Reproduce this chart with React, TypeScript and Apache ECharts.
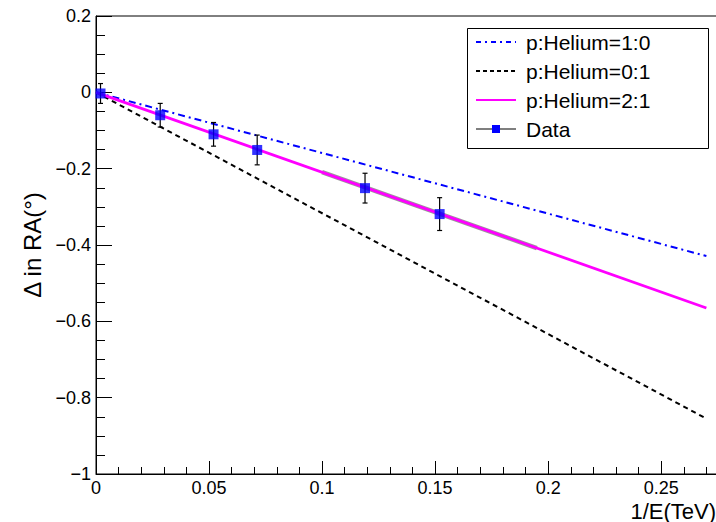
import React, { useEffect, useRef } from "react";
import * as echarts from "echarts";

// Data points: 1/E (TeV^-1), Δ RA (deg), error
const dataX = [0.002, 0.0284, 0.052, 0.0713, 0.119, 0.152];
const dataY = [-0.003, -0.06, -0.11, -0.151, -0.251, -0.319];
const dataErr = [0.026, 0.031, 0.031, 0.039, 0.039, 0.043];

// Model lines (endpoints)
const helium10 = [[0, 0], [0.27, -0.429]];
const helium01 = [[0, 0], [0.27, -0.855]];
const helium21 = [[0, 0], [0.27, -0.565]];
const fitBand = [[0.1, -0.209], [0.195, -0.408]];

const legendLabels = ["p:Helium=1:0", "p:Helium=0:1", "p:Helium=2:1", "Data"];

const FONT = "Liberation Sans, Arial, Helvetica, sans-serif";

export default function App() {
  const ref = useRef<HTMLDivElement>(null);
  useEffect(() => {
    if (!ref.current) return;
    const chart = echarts.init(ref.current, null, { renderer: "svg" });
    const points = dataX.map((x, i) => [x, dataY[i]]);
    const errs = dataX.map((x, i) => [x, dataY[i], dataErr[i]]);

    const lx0 = 476, lx1 = 516, ltx = 526;
    const rows = [42, 71, 100, 129];

    const option: any = {
      animation: false,
      backgroundColor: "#fff",
      grid: {
        left: 96, top: 16, width: 633, height: 458,
        show: true, borderColor: "#000", borderWidth: 1, backgroundColor: "transparent",
      },
      xAxis: {
        type: "value", min: 0, max: 0.28, interval: 0.05,
        axisLine: { onZero: false, lineStyle: { color: "#000", width: 1 } },
        axisTick: { inside: true, length: 13, lineStyle: { color: "#000" } },
        minorTick: { show: true, splitNumber: 5, length: 7, lineStyle: { color: "#000" } },
        splitLine: { show: false },
        axisLabel: {
          color: "#000", fontSize: 18, fontFamily: FONT, margin: 5, showMaxLabel: false,
          formatter: (v: number) => {
            const r = Math.round(v * 100) / 100;
            return r === 0 ? "0" : String(r);
          },
        },
      },
      yAxis: {
        type: "value", min: -1, max: 0.2, interval: 0.2,
        name: "\u0394 in RA(\u00b0)", nameLocation: "middle", nameGap: 44, nameRotate: 90,
        nameTextStyle: { color: "#000", fontSize: 24, fontFamily: FONT },
        axisLine: { onZero: false, lineStyle: { color: "#000", width: 1 } },
        axisTick: { inside: true, length: 16, lineStyle: { color: "#000" } },
        minorTick: { show: true, splitNumber: 4, length: 9, lineStyle: { color: "#000" } },
        splitLine: { show: false },
        axisLabel: {
          color: "#000", fontSize: 18, fontFamily: FONT, margin: 5,
          formatter: (v: number) => {
            const r = Math.round(v * 10) / 10;
            if (r === 0) return "0";
            if (r < 0) return "\u2212" + Math.abs(r);
            return String(r);
          },
        },
      },
      series: [
        {
          type: "line", data: helium10, symbol: "none", z: 3,
          lineStyle: { color: "#0000ff", width: 2, type: [7, 4, 2, 4] },
        },
        {
          type: "line", data: helium01, symbol: "none", z: 3,
          lineStyle: { color: "#000", width: 2, type: [5, 4] },
        },
        {
          type: "line", data: fitBand, symbol: "none", z: 3,
          lineStyle: { color: "#555", width: 4.5, opacity: 0.6 },
        },
        {
          type: "line", data: helium21, symbol: "none", z: 4,
          lineStyle: { color: "#ff00ff", width: 2.8 },
        },
        {
          type: "custom", data: errs, z: 5,
          renderItem: (params: any, api: any) => {
            const x = api.value(0), y = api.value(1), e = api.value(2);
            const lo = api.coord([x, y - e]);
            const hi = api.coord([x, y + e]);
            const c = 2.5;
            const st = { stroke: "#000", lineWidth: 1.2 };
            return {
              type: "group",
              children: [
                { type: "line", shape: { x1: lo[0], y1: lo[1], x2: hi[0], y2: hi[1] }, style: st },
                { type: "line", shape: { x1: lo[0] - c, y1: lo[1], x2: lo[0] + c, y2: lo[1] }, style: st },
                { type: "line", shape: { x1: hi[0] - c, y1: hi[1], x2: hi[0] + c, y2: hi[1] }, style: st },
              ],
            };
          },
        },
        {
          type: "scatter", data: points, symbol: "rect", symbolSize: 10, z: 6,
          itemStyle: { color: "#0000ff" },
        },
      ],
      graphic: [
        {
          type: "rect", z: 100,
          shape: { x: 467.5, y: 28.5, width: 241, height: 120 },
          style: { fill: "#fff", stroke: "#000", lineWidth: 1 },
        },
        { type: "line", z: 101, shape: { x1: lx0, y1: rows[0], x2: lx1, y2: rows[0] },
          style: { stroke: "#0000ff", lineWidth: 2, lineDash: [5, 4, 2, 4] } },
        { type: "line", z: 101, shape: { x1: lx0, y1: rows[1], x2: lx1, y2: rows[1] },
          style: { stroke: "#000", lineWidth: 2, lineDash: [4, 3] } },
        { type: "line", z: 101, shape: { x1: lx0, y1: rows[2], x2: lx1, y2: rows[2] },
          style: { stroke: "#ff00ff", lineWidth: 2 } },
        { type: "line", z: 101, shape: { x1: lx0, y1: rows[3], x2: lx1, y2: rows[3] },
          style: { stroke: "#000", lineWidth: 1.2 } },
        { type: "rect", z: 102, shape: { x: (lx0 + lx1) / 2 - 4, y: rows[3] - 4, width: 8, height: 8 },
          style: { fill: "#0000ff" } },
        ...legendLabels.map((t, i) => ({
          type: "text", z: 102, x: ltx, y: rows[i],
          style: { text: t, fill: "#000", font: `21px ${FONT}`, verticalAlign: "middle" },
        })),
        {
          type: "text", z: 102, x: 716, y: 511,
          style: { text: "1/E(TeV)", fill: "#000", font: `22px ${FONT}`, align: "right", verticalAlign: "middle" },
        },
      ],
    };
    chart.setOption(option);
    return () => chart.dispose();
  }, []);

  return (
    <div style={{ position: "fixed", left: 0, top: 0, width: 716, height: 522, overflow: "hidden", background: "#fff" }}>
      <div ref={ref} style={{ width: 745, height: 522 }} />
    </div>
  );
}
